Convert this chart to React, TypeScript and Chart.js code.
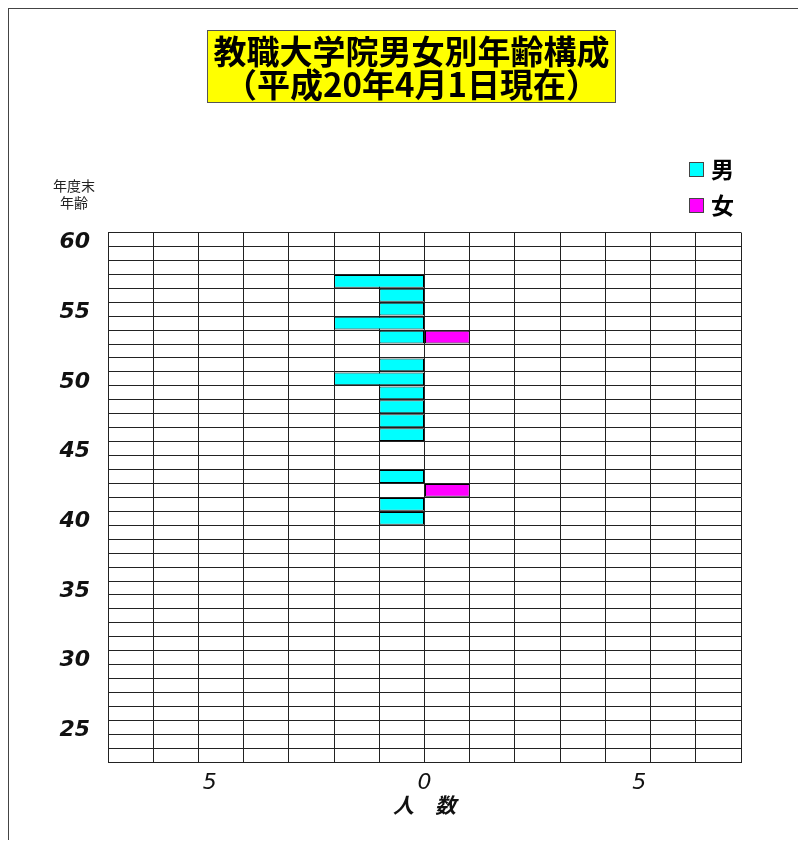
import React, { useEffect, useRef } from "react";
import { Chart, registerables } from "chart.js";

Chart.register(...registerables);

const ages = [60, 59, 58, 57, 56, 55, 54, 53, 52, 51, 50, 49, 48, 47, 46, 45, 44, 43, 42, 41, 40, 39, 38, 37, 36, 35, 34, 33, 32, 31, 30, 29, 28, 27, 26, 25, 24, 23];
const maleCounts = [0, 0, 0, 2, 1, 1, 2, 1, 0, 1, 2, 1, 1, 1, 1, 0, 0, 1, 0, 1, 1, 0, 0, 0, 0, 0, 0, 0, 0, 0, 0, 0, 0, 0, 0, 0, 0, 0];
const femaleCounts = [0, 0, 0, 0, 0, 0, 0, 1, 0, 0, 0, 0, 0, 0, 0, 0, 0, 0, 1, 0, 0, 0, 0, 0, 0, 0, 0, 0, 0, 0, 0, 0, 0, 0, 0, 0, 0, 0];
const seriesNames = ["男", "女"];
const xLabelValues = [-5, 0, 5];
const titleLines = ["教職大学院男女別年齢構成", "（平成20年4月1日現在）"];
const yAxisCaption = ["年度末", "年齢"];
const xAxisCaption = "人　数";

const legendPlugin = {
  id: "customLegend",
  afterDraw(chart: any) {
    const ctx = chart.ctx;
    ctx.save();
    chart.data.datasets.forEach((ds: any, i: number) => {
      const x = 680;
      const y = 153 + i * 36;
      ctx.fillStyle = ds.backgroundColor;
      ctx.fillRect(x, y, 15, 15);
      ctx.strokeStyle = "#444";
      ctx.lineWidth = 1;
      ctx.strokeRect(x + 0.5, y + 0.5, 14, 14);
      ctx.fillStyle = "#000";
      ctx.font = "bold 23px 'Noto Sans CJK JP'";
      ctx.textBaseline = "middle";
      ctx.textAlign = "left";
      ctx.fillText(ds.label, x + 22, y + 7);
    });
    ctx.restore();
  },
};

export default function App() {
  const canvasRef = useRef<HTMLCanvasElement | null>(null);

  useEffect(() => {
    if (!canvasRef.current) return;
    const chart = new Chart(canvasRef.current, {
      type: "bar",
      data: {
        labels: ages.map(String),
        datasets: [
          {
            label: seriesNames[0],
            data: maleCounts.map((v) => (v ? -v : null)),
            backgroundColor: "#00FFFF",
            borderColor: "#000",
            borderWidth: 1,
            borderSkipped: false,
            barPercentage: 1,
            categoryPercentage: 0.92,
            xAxisID: "x",
          },
          {
            label: seriesNames[1],
            data: femaleCounts.map((v) => (v ? v : null)),
            backgroundColor: "#FF00FF",
            borderColor: "#000",
            borderWidth: 1,
            borderSkipped: false,
            barPercentage: 1,
            categoryPercentage: 0.92,
            xAxisID: "x",
          },
        ],
      },
      options: {
        indexAxis: "y",
        animation: false,
        responsive: false,
        maintainAspectRatio: false,
        layout: { padding: { top: 223.5, right: 65, bottom: 0, left: 0 } },
        plugins: {
          legend: { display: false },
          tooltip: { enabled: false },
          title: { display: false },
        },
        scales: {
          y: {
            type: "category",
            stacked: true,
            grid: { color: "#222", lineWidth: 1, drawTicks: false, offset: true },
            border: { display: true, color: "#222" },
            ticks: {
              autoSkip: false,
              padding: 18,
              labelOffset: 3,
              color: "#111",
              font: { family: "'DejaVu Sans'", size: 22, style: "italic", weight: "bold" },
              callback: (_v: any, i: number) => (ages[i] % 5 === 0 ? String(ages[i]) : ""),
            },
            afterFit: (s: any) => {
              s.width = 99;
            },
          },
          x: {
            type: "linear",
            stacked: true,
            min: -7,
            max: 7,
            position: "bottom",
            grid: { color: "#222", lineWidth: 1, drawTicks: false },
            border: { display: true, color: "#222" },
            ticks: { stepSize: 1, display: false },
            afterFit: (s: any) => {
              s.height = 0;
            },
          },
          x2: {
            type: "linear",
            min: -7,
            max: 7,
            position: "bottom",
            grid: { display: false, drawTicks: false },
            border: { display: false },
            afterBuildTicks: (s: any) => {
              s.ticks = xLabelValues.map((v) => ({ value: v * 0.95 }));
            },
            ticks: {
              padding: 8,
              color: "#111",
              autoSkip: false,
              maxRotation: 0,
              font: { family: "'DejaVu Sans'", size: 22, style: "italic" },
              callback: (v: any) => String(Math.abs(Math.round(Number(v)))),
            },
            title: {
              display: true,
              text: xAxisCaption,
              padding: { top: 0, bottom: 22 },
              color: "#111",
              font: { family: "'Noto Sans CJK JP'", size: 21, style: "italic", weight: "bold" },
            },
            afterFit: (s: any) => {
              s.height = 77.7;
            },
          },
        },
      },
      plugins: [legendPlugin],
    });
    return () => chart.destroy();
  }, []);

  return (
    <div
      style={{
        position: "relative",
        width: 797,
        height: 831,
        borderTop: "1px solid #444",
        borderLeft: "1px solid #444",
        background: "#fff",
      }}
    >
      <canvas
        ref={canvasRef}
        width={797}
        height={831}
        style={{ position: "absolute", left: 0, top: 0, width: 797, height: 831 }}
      />
      <div
        style={{
          position: "absolute",
          left: 198,
          top: 21,
          width: 409,
          height: 73,
          boxSizing: "border-box",
          background: "#FFFF00",
          border: "1px solid #555",
          fontFamily: "'Noto Sans CJK JP'",
          fontWeight: "bold",
          fontSize: 33,
          lineHeight: "33px",
          paddingTop: 3,
          textAlign: "center",
          color: "#000",
          whiteSpace: "nowrap",
        }}
      >
        {titleLines.map((t) => (
          <div key={t}>{t}</div>
        ))}
      </div>
      <div
        style={{
          position: "absolute",
          left: 35,
          top: 168,
          width: 60,
          textAlign: "center",
          fontFamily: "'Noto Sans CJK JP'",
          fontSize: 14,
          lineHeight: "17px",
          color: "#222",
        }}
      >
        {yAxisCaption.map((t) => (
          <div key={t}>{t}</div>
        ))}
      </div>
    </div>
  );
}
